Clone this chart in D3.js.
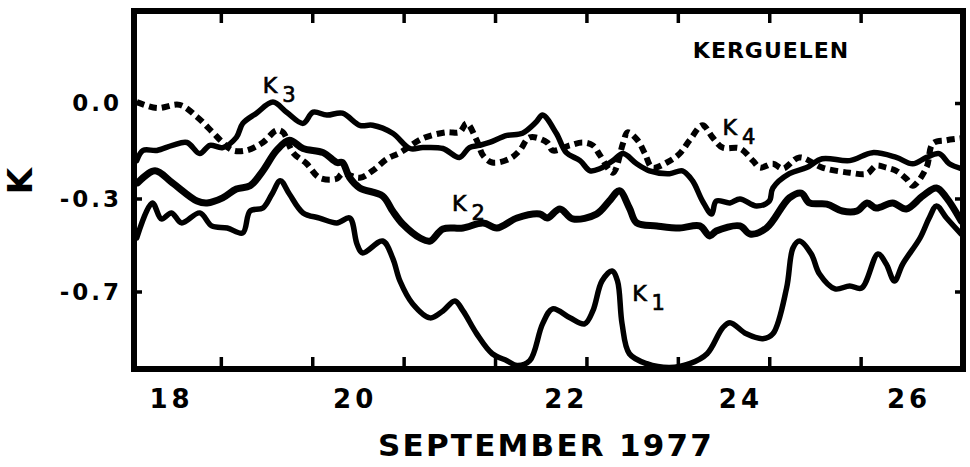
<!DOCTYPE html>
<html>
<head>
<meta charset="utf-8">
<script src="https://cdn.jsdelivr.net/npm/d3@7"></script>
<style>
  body { margin: 0; background: #fff; }
  svg { display: block; }
  text { font-family: "DejaVu Sans", sans-serif; fill: #000; }
</style>
</head>
<body>
<div id="chart"></div>
<script>
// day of September 1977, K value
var k1 = [[18.08,-0.470],[18.25,-0.319],[18.35,-0.388],[18.46,-0.362],[18.57,-0.405],[18.77,-0.362],[18.90,-0.418],
  [19.07,-0.427],[19.24,-0.448],[19.32,-0.354],[19.46,-0.341],[19.56,-0.286],[19.65,-0.244],[19.75,-0.286],[19.90,-0.362],
  [20.08,-0.384],[20.27,-0.405],[20.41,-0.384],[20.49,-0.496],[20.55,-0.534],[20.77,-0.483],[20.88,-0.556],[20.96,-0.655],
  [21.10,-0.754],[21.29,-0.814],[21.43,-0.784],[21.56,-0.741],[21.65,-0.784],[21.80,-0.883],[21.97,-0.969],[22.13,-0.999],
  [22.24,-1.020],[22.38,-0.999],[22.52,-0.840],[22.63,-0.775],[22.82,-0.814],[22.98,-0.840],[23.07,-0.784],[23.17,-0.655],
  [23.28,-0.612],[23.34,-0.655],[23.39,-0.840],[23.47,-0.969],[23.66,-1.012],[23.91,-1.029],[24.13,-1.012],[24.32,-0.969],
  [24.49,-0.857],[24.57,-0.835],[24.75,-0.883],[24.93,-0.904],[25.04,-0.883],[25.19,-0.685],[25.26,-0.513],[25.33,-0.483],
  [25.46,-0.539],[25.55,-0.625],[25.72,-0.689],[25.88,-0.676],[26.01,-0.685],[26.19,-0.539],[26.28,-0.582],[26.37,-0.655],
  [26.46,-0.582],[26.65,-0.470],[26.75,-0.384],[26.83,-0.332],[26.94,-0.384],[27.10,-0.453]];

var k2 = [[18.09,-0.251],[18.28,-0.213],[18.47,-0.251],[18.74,-0.311],[18.85,-0.319],[19.02,-0.298],[19.17,-0.270],
  [19.32,-0.260],[19.46,-0.213],[19.61,-0.149],[19.75,-0.117],[19.90,-0.143],[20.12,-0.156],[20.27,-0.187],[20.33,-0.187],
  [20.41,-0.235],[20.52,-0.267],[20.77,-0.292],[20.88,-0.354],[20.99,-0.410],[21.18,-0.470],[21.29,-0.483],[21.43,-0.431],
  [21.65,-0.427],[21.87,-0.405],[22.02,-0.427],[22.24,-0.384],[22.49,-0.367],[22.57,-0.384],[22.71,-0.345],[22.85,-0.388],
  [23.11,-0.367],[23.25,-0.311],[23.36,-0.276],[23.47,-0.341],[23.55,-0.405],[23.77,-0.418],[24.02,-0.427],[24.24,-0.418],
  [24.35,-0.461],[24.42,-0.440],[24.68,-0.418],[24.79,-0.453],[24.97,-0.427],[25.22,-0.298],[25.35,-0.283],[25.44,-0.319],
  [25.63,-0.324],[25.80,-0.354],[25.96,-0.354],[26.07,-0.319],[26.17,-0.341],[26.35,-0.319],[26.50,-0.345],[26.68,-0.292],
  [26.83,-0.267],[26.94,-0.298],[27.10,-0.397]];

var k3 = [[18.08,-0.181],[18.15,-0.149],[18.30,-0.149],[18.47,-0.133],[18.63,-0.124],[18.77,-0.159],[18.88,-0.133],
  [19.02,-0.140],[19.17,-0.108],[19.24,-0.064],[19.39,-0.032],[19.57,0.003],[19.72,-0.029],[19.90,-0.064],[20.01,-0.029],
  [20.16,-0.038],[20.33,-0.032],[20.52,-0.070],[20.66,-0.070],[20.88,-0.095],[21.07,-0.143],[21.21,-0.140],[21.43,-0.143],
  [21.61,-0.171],[21.72,-0.140],[21.83,-0.133],[21.94,-0.124],[22.13,-0.102],[22.30,-0.095],[22.45,-0.060],[22.52,-0.038],
  [22.67,-0.095],[22.78,-0.156],[22.93,-0.181],[23.04,-0.213],[23.15,-0.206],[23.29,-0.181],[23.40,-0.159],[23.55,-0.191],
  [23.69,-0.213],[23.91,-0.222],[24.05,-0.213],[24.16,-0.244],[24.27,-0.311],[24.37,-0.367],[24.42,-0.311],[24.57,-0.319],
  [24.68,-0.302],[24.86,-0.332],[25.00,-0.311],[25.04,-0.267],[25.22,-0.222],[25.41,-0.203],[25.58,-0.175],[25.88,-0.181],
  [26.13,-0.156],[26.39,-0.171],[26.57,-0.191],[26.72,-0.171],[26.86,-0.159],[26.97,-0.191],[27.10,-0.206]];

var k4 = [[18.08,0.003],[18.30,-0.016],[18.55,-0.006],[18.74,-0.044],[18.91,-0.092],[19.02,-0.124],[19.13,-0.149],
  [19.28,-0.149],[19.46,-0.124],[19.61,-0.086],[19.68,-0.092],[19.79,-0.156],[19.94,-0.191],[20.08,-0.235],[20.27,-0.238],
  [20.33,-0.222],[20.52,-0.235],[20.66,-0.213],[20.82,-0.175],[20.96,-0.156],[21.21,-0.111],[21.47,-0.092],[21.61,-0.092],
  [21.69,-0.064],[21.80,-0.117],[21.87,-0.165],[21.97,-0.187],[22.16,-0.175],[22.27,-0.149],[22.38,-0.108],[22.57,-0.124],
  [22.63,-0.149],[22.82,-0.133],[22.96,-0.124],[23.07,-0.133],[23.15,-0.165],[23.29,-0.219],[23.40,-0.127],[23.45,-0.092],
  [23.56,-0.117],[23.64,-0.159],[23.72,-0.203],[23.88,-0.187],[24.02,-0.159],[24.13,-0.117],[24.27,-0.070],[24.38,-0.108],
  [24.49,-0.140],[24.68,-0.143],[24.82,-0.181],[24.90,-0.203],[25.04,-0.191],[25.15,-0.206],[25.33,-0.171],[25.58,-0.203],
  [25.88,-0.219],[26.07,-0.222],[26.17,-0.197],[26.28,-0.203],[26.39,-0.213],[26.50,-0.238],[26.57,-0.260],[26.72,-0.203],
  [26.79,-0.127],[26.94,-0.117],[27.10,-0.111]];

// axis ticks and labels
var xTickDays = [19, 20, 21, 22, 23, 24, 25, 26];
var xLabels = ["18", "20", "22", "24", "26"];
var xLabelDays = [18.46, 20.47, 22.78, 24.69, 26.53];
var yTicks = [0, -0.3, -0.7];
var yTickLabels = ["0.0", "-0.3", "-0.7"];

// curve name labels: [name, subscript, day, K]
var curveLabels = [["K", "3", 19.46, 0.032], ["K", "2", 21.53, -0.354], ["K", "1", 23.50, -0.741], ["K", "4", 24.49, -0.102]];

var svgWidth = 970;
var svgHeight = 467;

var margin = { top: 11, right: 7, bottom: 98, left: 134 };
var width = svgWidth - margin.left - margin.right;
var height = svgHeight - margin.top - margin.bottom;

var svg = d3.select("#chart")
  .append("svg")
  .attr("width", svgWidth)
  .attr("height", svgHeight);

var chartGroup = svg.append("g")
  .attr("transform", `translate(${margin.left}, ${margin.top})`);

// scales -- the printed K axis is not evenly spaced, so use a piecewise scale
var xScale = d3.scaleLinear()
  .domain([18.05, 27.12])
  .range([0, width]);

var yScale = d3.scaleLinear()
  .domain([0.29, 0, -0.3, -0.7, -1.035])
  .range([0, height * 0.257, height * 0.5237, height * 0.7835, height]);

// clip so curves stop at the frame
svg.append("defs").append("clipPath")
  .attr("id", "plotClip")
  .append("rect")
  .attr("width", width)
  .attr("height", height);

var line = d3.line()
  .x(d => xScale(d[0]))
  .y(d => yScale(d[1]))
  .curve(d3.curveCatmullRom.alpha(0.5));

var curves = chartGroup.append("g").attr("clip-path", "url(#plotClip)");

// solid curves
[[k1, 5.5], [k2, 7], [k3, 5.5]].forEach(function(c) {
  curves.append("path")
    .datum(c[0])
    .attr("d", line)
    .attr("fill", "none")
    .attr("stroke", "#000")
    .attr("stroke-width", c[1])
    .attr("stroke-linejoin", "round")
    .attr("stroke-linecap", "round");
});

// dashed K4
curves.append("path")
  .datum(k4)
  .attr("d", line)
  .attr("fill", "none")
  .attr("stroke", "#000")
  .attr("stroke-width", 6)
  .attr("stroke-dasharray", "8,5");

// frame
chartGroup.append("rect")
  .attr("width", width)
  .attr("height", height)
  .attr("fill", "none")
  .attr("stroke", "#000")
  .attr("stroke-width", 6);

// ticks on all four sides, pointing inward
var bottomAxis = d3.axisBottom(xScale).tickValues(xTickDays).tickSize(-12).tickFormat("");
var topAxis = d3.axisTop(xScale).tickValues(xTickDays).tickSize(-12).tickFormat("");
var leftAxis = d3.axisLeft(yScale).tickValues(yTicks).tickSize(-8).tickFormat("");
var rightAxis = d3.axisRight(yScale).tickValues(yTicks).tickSize(-8).tickFormat("");

chartGroup.append("g").attr("transform", `translate(0, ${height})`).call(bottomAxis);
chartGroup.append("g").call(topAxis);
chartGroup.append("g").call(leftAxis);
chartGroup.append("g").attr("transform", `translate(${width}, 0)`).call(rightAxis);

chartGroup.selectAll(".domain").remove();
chartGroup.selectAll(".tick line")
  .attr("stroke", "#000")
  .attr("stroke-width", 3.5);

// x labels (hand placed between ticks)
chartGroup.selectAll(".xlabel")
  .data(xLabels)
  .enter()
  .append("text")
  .attr("class", "xlabel")
  .attr("x", (d, i) => xScale(xLabelDays[i]))
  .attr("y", height + 39)
  .attr("text-anchor", "middle")
  .attr("font-size", "26px")
  .attr("font-weight", "bold")
  .attr("letter-spacing", "4px")
  .text(d => d);

// y labels
chartGroup.selectAll(".ylabel")
  .data(yTickLabels)
  .enter()
  .append("text")
  .attr("class", "ylabel")
  .attr("x", -12)
  .attr("y", (d, i) => yScale(yTicks[i]))
  .attr("dy", "0.36em")
  .attr("text-anchor", "end")
  .attr("font-size", "23px")
  .attr("font-weight", "bold")
  .attr("letter-spacing", "3px")
  .text(d => d);

// axis titles
svg.append("text")
  .attr("x", 546)
  .attr("y", 456)
  .attr("text-anchor", "middle")
  .attr("font-size", "31px")
  .attr("font-weight", "bold")
  .attr("letter-spacing", "2.2px")
  .text("SEPTEMBER 1977");

svg.append("text")
  .attr("transform", `translate(32, ${margin.top + yScale(-0.245)}) rotate(-90)`)
  .attr("text-anchor", "middle")
  .attr("font-size", "34px")
  .attr("font-weight", "bold")
  .text("K");

// station name
chartGroup.append("text")
  .attr("x", xScale(25.02))
  .attr("y", 47)
  .attr("text-anchor", "middle")
  .attr("font-size", "22px")
  .attr("font-weight", "bold")
  .attr("letter-spacing", "1px")
  .text("KERGUELEN");

// curve labels with subscripts
var lab = chartGroup.selectAll(".klabel")
  .data(curveLabels)
  .enter()
  .append("text")
  .attr("class", "klabel")
  .attr("x", d => xScale(d[2]))
  .attr("y", d => yScale(d[3]))
  .attr("font-size", "22px")
  .attr("stroke", "#000")
  .attr("stroke-width", 0.7);

lab.append("tspan").text(d => d[0]);
lab.append("tspan")
  .attr("dx", "5")
  .attr("dy", "9")
  .attr("font-size", "21px")
  .text(d => d[1]);
</script>
</body>
</html>
